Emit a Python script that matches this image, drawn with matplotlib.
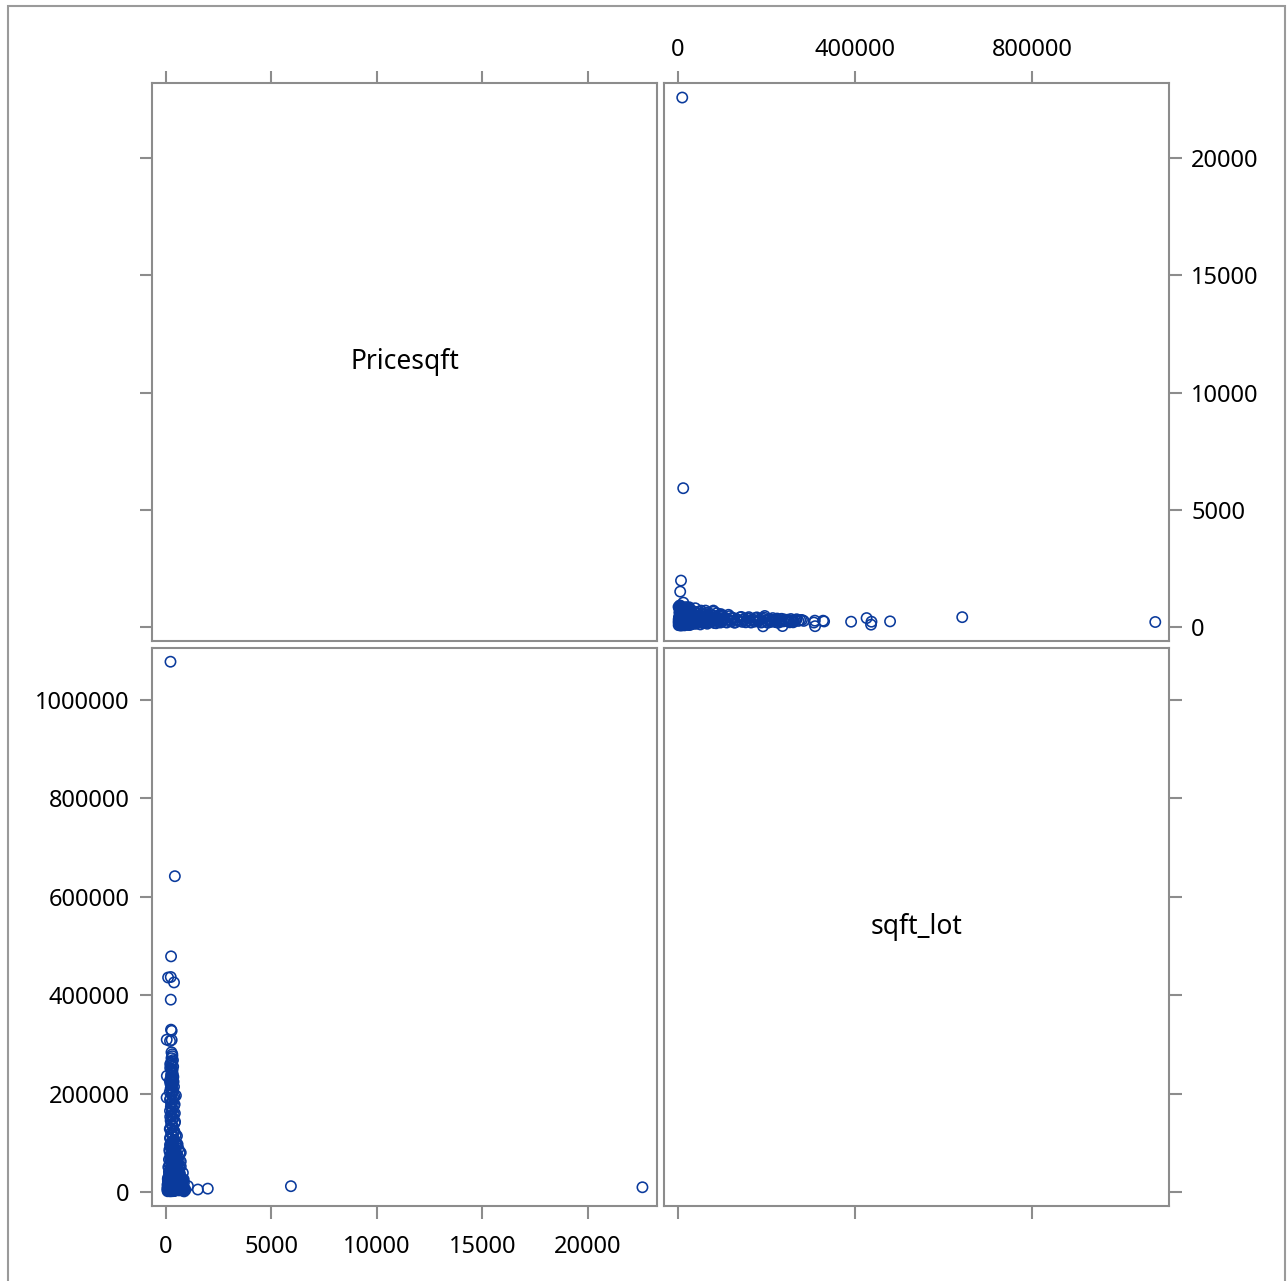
import matplotlib
matplotlib.use("Agg")
import matplotlib.pyplot as plt
from matplotlib.patches import Rectangle

# Variables in the scatter matrix
variables = ["Pricesqft", "sqft_lot"]

# Observations as (Pricesqft, sqft_lot)
core_points = [
    (95, 5000), (150, 6200), (210, 7400), (260, 3900), (310, 8100), (360, 4700),
    (420, 9800), (480, 5600), (540, 7200), (610, 12000), (680, 6800), (760, 9200),
    (820, 5400), (880, 4300), (130, 15800), (190, 11200), (240, 13500), (290, 2600),
    (340, 10400), (390, 16900), (450, 8700), (510, 14300), (575, 6100), (640, 3400),
    (720, 11800), (170, 19800), (230, 18500), (280, 21500), (330, 17200), (380, 7900),
    (440, 22800), (500, 12600), (560, 9500), (115, 24000), (205, 1300), (270, 20600),
    (320, 14900), (370, 23700), (415, 2100), (465, 18100), (525, 16200), (590, 13900),
    (655, 10800), (245, 4800), (300, 7600), (350, 1900), (405, 3100), (455, 9100),
    (515, 5900), (140, 8300), (225, 11500), (285, 5300), (335, 6600), (395, 10100),
    (80, 1500), (120, 3200), (160, 4400), (200, 5700), (240, 6900), (280, 8200),
    (320, 9400), (360, 10700), (400, 11900), (440, 13100), (480, 14400), (520, 15600),
    (560, 16800), (600, 18100), (640, 19300), (680, 20500), (720, 21800), (760, 23000),
    (800, 24200), (840, 25500), (100, 24800), (140, 23600), (180, 22300), (220, 21100),
    (260, 19800), (300, 18600), (340, 17400), (380, 16100), (420, 14900), (460, 13600),
    (500, 12400), (540, 11200), (580, 9900), (620, 8700), (660, 7400), (700, 6200),
    (740, 4900), (780, 3700), (820, 2500), (860, 1200), (110, 9000), (170, 2800),
    (230, 14000), (290, 26000), (350, 5200), (410, 20000), (470, 7800), (530, 27500),
    (590, 3600), (650, 15200), (710, 10400), (770, 17700), (830, 8800), (890, 6400),
    (920, 4100), (130, 12800), (190, 17000), (250, 28500), (310, 1600), (370, 22000),
    (430, 4600), (490, 25800), (550, 6900), (610, 21200), (670, 11600), (730, 13800),
    (790, 16300), (850, 19000), (60, 7000), (70, 14500), (90, 20500), (75, 3000),
    (85, 26500), (120, 29500), (210, 30000), (330, 29000), (450, 28000), (600, 27000),
]
mid_points = [
    (180, 27000), (320, 29000), (450, 31000), (560, 33000), (250, 35000), (390, 37000),
    (640, 39000), (140, 41000), (290, 43000), (480, 45000), (220, 47000), (360, 50000),
    (700, 52000), (170, 55000), (420, 58000), (270, 61000), (540, 62000), (330, 65000),
    (200, 68000), (460, 71000), (380, 74000), (250, 77000), (700, 80000), (300, 83000),
    (160, 86000), (410, 89000), (340, 92000), (230, 95000), (500, 98000), (280, 100000),
    (800, 39000), (700, 62000), (520, 114000),
    (120, 31000), (260, 32500), (380, 34000), (520, 35500), (660, 36500), (150, 38000),
    (300, 39500), (430, 41000), (600, 42500), (200, 44000), (340, 45500), (490, 47000),
    (650, 48500), (110, 50500), (270, 52500), (410, 54000), (560, 56000), (180, 58000),
    (320, 60000), (470, 62000), (610, 64000), (140, 66000), (290, 68000), (430, 70000),
    (570, 72000), (210, 74000), (350, 76000), (500, 78000), (650, 80000), (170, 82000),
    (310, 84000), (450, 86000), (590, 88000), (230, 90000), (370, 92000), (520, 94000),
    (190, 96000), (330, 98000), (460, 100000), (240, 33000), (460, 37500), (340, 42000),
    (560, 46000), (250, 50000), (400, 57000), (230, 63000), (530, 67000), (380, 73000),
    (270, 79000), (420, 85000), (300, 91000), (550, 97000),
]
tail_points = [
    (350, 104000), (210, 108000), (290, 118000), (400, 123000), (180, 128000),
    (330, 133000), (250, 138000), (430, 143000), (300, 148000), (200, 153000),
    (370, 158000), (270, 163000), (320, 168000), (230, 173000), (410, 178000),
    (280, 183000), (190, 188000), (350, 192000), (470, 196000), (260, 200000),
    (300, 205000), (220, 210000), (380, 214000), (250, 218000), (320, 222000),
    (180, 226000), (290, 230000), (350, 234000), (240, 238000), (270, 243000),
    (310, 248000), (200, 252000), (280, 257000), (240, 262000), (330, 268000),
    (260, 272000), (300, 276000), (40, 236000), (30, 192000), (35, 309600),
    (270, 309000), (190, 307000), (299, 280000), (260, 284000), (237, 330000),
    (269, 327700),
    (260, 102000), (400, 106000), (190, 110000), (330, 112000), (460, 116000),
    (240, 120000), (370, 125000), (210, 130000), (300, 135000), (410, 140000),
    (220, 145000), (350, 150000), (270, 155000), (420, 160000), (190, 165000),
    (310, 170000), (380, 175000), (240, 180000), (330, 185000), (220, 190000),
    (400, 195000), (280, 198000), (180, 203000), (340, 207000), (260, 212000),
    (300, 216000), (210, 220000), (360, 224000), (270, 228000), (230, 232000),
    (320, 240000), (280, 245000), (250, 250000), (340, 255000), (200, 260000),
    (290, 265000),
]
outlier_points = [
    (213, 1078000), (420, 642000), (240, 479000), (226, 437000), (100, 436000),
    (380, 426000), (226, 391000), (22580, 9600), (5920, 11800), (1980, 6800),
    (1510, 5000), (1040, 12100),
]

points = core_points + mid_points + tail_points + outlier_points
price = [p for p, _ in points]
lot = [q for _, q in points]

# Axis settings per variable
limits_x = {"Pricesqft": (-663, 23270), "sqft_lot": (-31600, 1109000)}
limits_y = {"Pricesqft": (-597, 23200), "sqft_lot": (-28500, 1105900)}
ticks_x = {"Pricesqft": [0, 5000, 10000, 15000, 20000], "sqft_lot": [0, 400000, 800000]}
ticks_y = {"Pricesqft": [0, 5000, 10000, 15000, 20000],
           "sqft_lot": [0, 200000, 400000, 600000, 800000, 1000000]}
values = {"Pricesqft": price, "sqft_lot": lot}

plt.rcParams["font.family"] = ["Noto Sans", "DejaVu Sans"]
FS = 17
GREY = "#8c8c8c"
BLUE = "#0a3a9c"

W, H = 1288, 1281
fig = plt.figure(figsize=(W / 100, H / 100), dpi=100)

col_left = [152, 664]
row_top = [83, 648]
pw, ph = 505, 558


def px_axes(x0, y0, w, h):
    return fig.add_axes([x0 / W, 1 - (y0 + h) / H, w / W, h / H])


for r, yvar in enumerate(variables):
    for c, xvar in enumerate(variables):
        ax = px_axes(col_left[c], row_top[r], pw, ph)
        ax.set_xlim(limits_x[xvar])
        ax.set_ylim(limits_y[yvar])
        for s in ax.spines.values():
            s.set_color(GREY)
            s.set_linewidth(1.5)
        ax.set_xticks(ticks_x[xvar])
        ax.set_yticks(ticks_y[yvar])
        ax.tick_params(length=9, width=1.5, color=GREY, labelsize=FS,
                       direction="out")
        ax.set_xticklabels([str(t) for t in ticks_x[xvar]])
        ax.set_yticklabels([str(t) for t in ticks_y[yvar]])

        # Top row carries top ticks, bottom row bottom ticks;
        # left column left ticks, right column right ticks.
        if r == 0:
            ax.tick_params(axis="x", top=True, bottom=False,
                           labeltop=(c == 1), labelbottom=False, pad=6)
        else:
            ax.tick_params(axis="x", top=False, bottom=True,
                           labeltop=False, labelbottom=(c == 0), pad=12)
        if c == 0:
            ax.tick_params(axis="y", left=True, right=False,
                           labelleft=(r == 1), labelright=False, pad=7)
        else:
            ax.tick_params(axis="y", left=False, right=True,
                           labelleft=False, labelright=(r == 0), pad=7)

        if r == c:
            ax.text(0.5, 0.5, yvar, transform=ax.transAxes, ha="center",
                    va="center", fontsize=19, color="black")
        else:
            ax.scatter(values[xvar], values[yvar], s=55, facecolors="none",
                       edgecolors=BLUE, linewidths=1.15, zorder=3)

# Outer frame of the graph area
fig.add_artist(Rectangle((8 / W, -0.05), (1285 - 8) / W, 1.05 - 6 / H,
                         transform=fig.transFigure, fill=False,
                         edgecolor="#9a9a9a", linewidth=1.5))

fig.savefig("out.png", dpi=100)
